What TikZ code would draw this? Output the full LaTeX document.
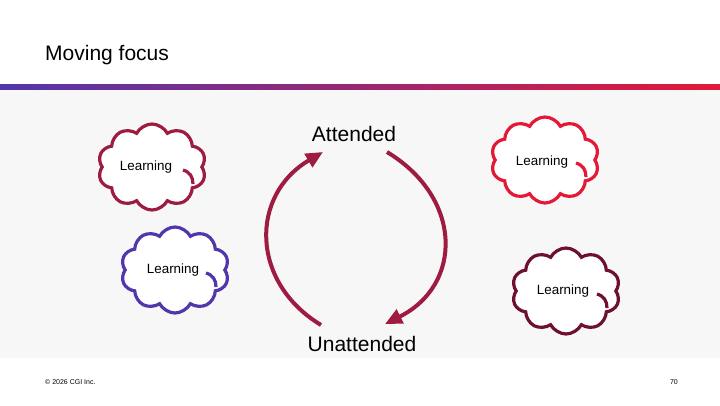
\documentclass[tikz,border=0pt]{standalone}
\usepackage{fontspec}
\setmainfont{Liberation Sans}
\usetikzlibrary{arrows.meta, positioning, shapes.symbols}

\definecolor{cgired}{HTML}{E31937}
\definecolor{cgipurple}{HTML}{5236AB}
\definecolor{cgimid}{HTML}{B41C3D}
\definecolor{cgiburgundy}{HTML}{9E1B42}
\definecolor{cgimaroon}{HTML}{6E1030}
\definecolor{panelgray}{HTML}{F7F7F7}

\begin{document}
\begin{tikzpicture}[x=1pt, y=-1pt,
    every node/.style={inner sep=0pt, font=\fontsize{13.4}{15}\selectfont},
    puff/.style={cloud, cloud puffs=10, cloud puff arc=125, cloud ignores aspect,
                 minimum width=108pt, minimum height=86pt, fill=white,
                 line width=3.2pt},
    curl/.style={line width=3.2pt},
    cycarr/.style={line width=4pt, cgiburgundy,
                   -{Triangle[length=17pt, width=15pt]}},
    state/.style={font=\fontsize{21}{24}\selectfont, anchor=base},
    foot/.style={font=\fontsize{7}{8}\selectfont},
  ]
    \useasboundingbox (0,0) rectangle (720,405);
    \fill[white] (0,0) rectangle (720,405);

    % Header
    \node[font=\fontsize{21}{24}\selectfont, anchor=base west] (title) at (45,60) {Moving focus};
    \shade[left color=cgipurple, middle color=cgimid, right color=cgired]
         (0,84) rectangle (720,90);
    \fill[panelgray] (0,90) rectangle (720,358);

    % Clouds
    \foreach \n/\cx/\cy/\tx/\ty/\col in {1/152/167/146/170/cgiburgundy,
                                         2/175/270/173/273/cgipurple,
                                         3/545/160/542/165/cgired,
                                         4/566/291/563/294/cgimaroon}{
      \node[puff, draw=\col] (cloud\n) at (\cx,\cy) {};
      \draw[curl, \col] ([shift={(31,3)}]cloud\n.center)
            .. controls +(7,2) and +(0,-7) .. ([shift={(41,17)}]cloud\n.center);
      \node[anchor=base] (learn\n) at (\tx,\ty) {Learning};
    }

    % Attention cycle
    \node[state] (att) at (354,141) {Attended};
    \node[state] (unatt) at (362,351) {Unattended};
    \coordinate (lowL) at (321,325);
    \coordinate (highL) at (323,152);
    \coordinate (highR) at (387,152);
    \coordinate (lowR) at (385,324);
    \draw[cycarr] (lowL) .. controls (250,282) and (250,195) .. (highL);
    \draw[cycarr] (highR) .. controls (463,198) and (463,285) .. (lowR);

    % Footer
    \node[foot, anchor=base west] (copy) at (45,384) {\textcopyright{} 2026 CGI Inc.};
    \node[foot, anchor=base east] (page) at (678,384) {70};
  \end{tikzpicture}
\end{document}
